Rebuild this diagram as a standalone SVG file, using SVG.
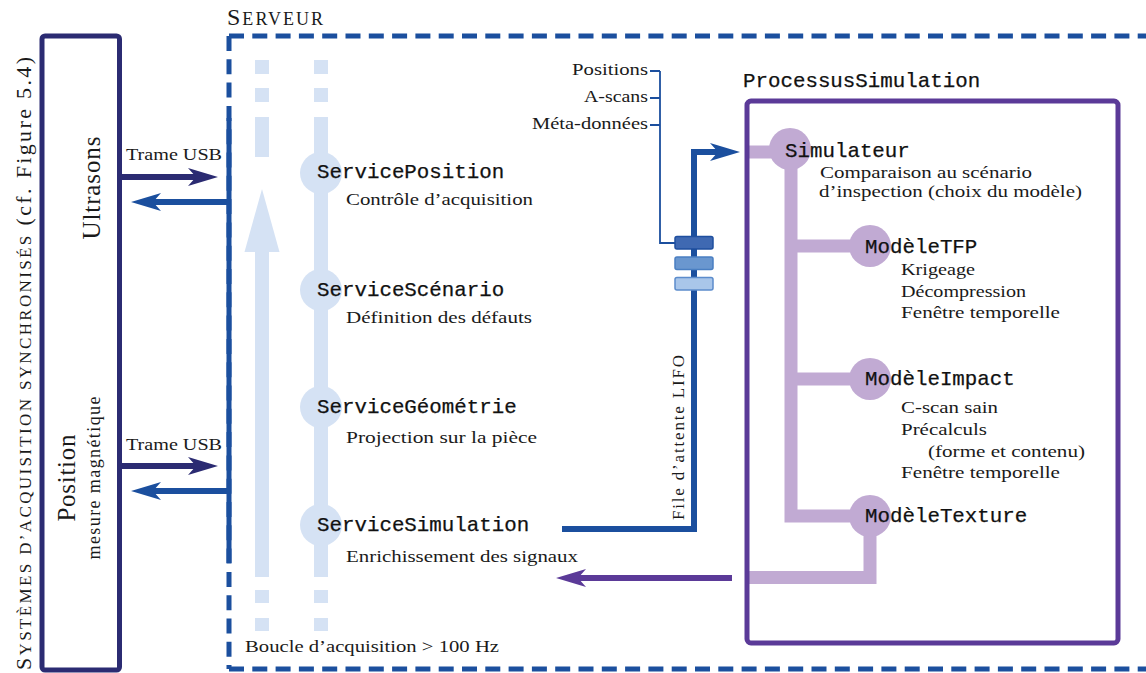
<svg xmlns="http://www.w3.org/2000/svg" width="1146" height="673" viewBox="0 0 1146 673">
<style>
.serif{font-family:"Liberation Serif","DejaVu Serif",serif;font-size:16.5px;fill:#1a1a1a}
.mono{font-family:"Liberation Mono","DejaVu Sans Mono",monospace;font-size:20.8px;fill:#111;stroke:#111;stroke-width:0.25}
.navy{stroke:#2b2b72;fill:none}
.blue{stroke:#1b4f9e;fill:none}
.lb{stroke:#d5e2f4;fill:none;stroke-width:14}
.lp{stroke:#c1aad3;fill:none;stroke-width:13}
.arr{stroke-width:6}
</style>
<defs>
<marker id="hNavy" viewBox="-32 -12 34 24" refX="-20" refY="0" markerWidth="34" markerHeight="24" markerUnits="userSpaceOnUse" orient="auto"><path d="M0,0 L-30,-9 L-22,0 L-30,9 Z" fill="#2b2b72"/></marker>
<marker id="hBlue" viewBox="-32 -12 34 24" refX="-20" refY="0" markerWidth="34" markerHeight="24" markerUnits="userSpaceOnUse" orient="auto"><path d="M0,0 L-30,-9 L-22,0 L-30,9 Z" fill="#1b4f9e"/></marker>
<marker id="hPurple" viewBox="-32 -12 34 24" refX="-20" refY="0" markerWidth="34" markerHeight="24" markerUnits="userSpaceOnUse" orient="auto"><path d="M0,0 L-30,-9 L-22,0 L-30,9 Z" fill="#5b3a98"/></marker>
</defs>
<rect width="1146" height="673" fill="#fff"/>

<g id="acquisition">
<text class="serif" transform="translate(31,670) rotate(-90)" style="font-size:22px" textLength="613" lengthAdjust="spacing">S<tspan style="font-size:17px">YSTÈMES D’ACQUISITION SYNCHRONISÉS</tspan> (cf. Figure 5.4)</text>
<rect class="navy" x="42" y="36" width="77.5" height="634" rx="3" stroke-width="5"/>
<text class="serif" transform="translate(100,188) rotate(-90)" style="font-size:25px" text-anchor="middle" textLength="103" lengthAdjust="spacing">Ultrasons</text>
<text class="serif" transform="translate(75,478) rotate(-90)" style="font-size:25px" text-anchor="middle" textLength="87" lengthAdjust="spacing">Position</text>
<text class="serif" transform="translate(100,478) rotate(-90)" style="font-size:18px" text-anchor="middle" textLength="163" lengthAdjust="spacing">mesure magnétique</text>
</g>

<g id="serveur">
<text class="serif" x="227" y="25" style="font-size:24px" textLength="96" lengthAdjust="spacing">S<tspan style="font-size:18px">ERVEUR</tspan></text>
<path class="blue" d="M229,36 H1146 M229,36 V669 M229,669 H1146" stroke-width="5" stroke-dasharray="15 8.3"/>
<text class="serif" x="245" y="652" textLength="254" lengthAdjust="spacingAndGlyphs">Boucle d’acquisition &gt; 100 Hz</text>
<path class="lb" d="M262,60 V74 M262,88 V102 M262,117 V157 M262,248 V577 M262,590 V603 M262,618 V631"/>
<polygon points="262,189 244.5,252 279.5,252" fill="#d5e2f4"/>
<path class="lb" d="M321,60 V74 M321,88 V102 M321,117 V577 M321,590 V603 M321,618 V631"/>
</g>

<g id="ServicePosition">
<circle cx="321" cy="173" r="21" fill="#d5e2f4"/>
<text class="mono" x="317" y="178">ServicePosition</text>
<text class="serif" x="346" y="205" textLength="187" lengthAdjust="spacingAndGlyphs">Contrôle d’acquisition</text>
</g>
<g id="ServiceScenario">
<circle cx="321" cy="290" r="21" fill="#d5e2f4"/>
<text class="mono" x="317" y="296">ServiceScénario</text>
<text class="serif" x="346" y="323" textLength="186" lengthAdjust="spacingAndGlyphs">Définition des défauts</text>
</g>
<g id="ServiceGeometrie">
<circle cx="321" cy="407" r="21" fill="#d5e2f4"/>
<text class="mono" x="317" y="413">ServiceGéométrie</text>
<text class="serif" x="346" y="443" textLength="191" lengthAdjust="spacingAndGlyphs">Projection sur la pièce</text>
</g>
<g id="ServiceSimulation">
<circle cx="321" cy="525" r="21" fill="#d5e2f4"/>
<text class="mono" x="317" y="531">ServiceSimulation</text>
<text class="serif" x="346" y="562" textLength="232" lengthAdjust="spacingAndGlyphs">Enrichissement des signaux</text>
</g>

<g id="ProcessusSimulation">
<text class="mono" x="743" y="87">ProcessusSimulation</text>
<path class="lp" d="M747,152 H790"/>
<path class="lp" d="M791,160 V516 H860 M791,246 H860 M791,379 H860"/>
<path class="lp" d="M870,525 V577.5 H748"/>
<rect x="747" y="101" width="371" height="542" rx="4" fill="none" stroke="#5b3a98" stroke-width="5"/>
</g>
<g id="Simulateur">
<circle cx="790" cy="149" r="21" fill="#c1aad3"/>
<text class="mono" x="785" y="157">Simulateur</text>
<text class="serif" x="820" y="178" textLength="212" lengthAdjust="spacingAndGlyphs">Comparaison au scénario</text>
<text class="serif" x="819" y="197" textLength="263" lengthAdjust="spacingAndGlyphs">d’inspection (choix du modèle)</text>
</g>
<g id="ModeleTFP">
<circle cx="870" cy="246" r="21" fill="#c1aad3"/>
<text class="mono" x="865" y="253">ModèleTFP</text>
<text class="serif" x="901" y="275" textLength="74" lengthAdjust="spacingAndGlyphs">Krigeage</text>
<text class="serif" x="901" y="297" textLength="125" lengthAdjust="spacingAndGlyphs">Décompression</text>
<text class="serif" x="901" y="318" textLength="159" lengthAdjust="spacingAndGlyphs">Fenêtre temporelle</text>
</g>
<g id="ModeleImpact">
<circle cx="870" cy="379" r="21" fill="#c1aad3"/>
<text class="mono" x="865" y="385">ModèleImpact</text>
<text class="serif" x="901" y="413" textLength="97" lengthAdjust="spacingAndGlyphs">C-scan sain</text>
<text class="serif" x="901" y="435" textLength="86" lengthAdjust="spacingAndGlyphs">Précalculs</text>
<text class="serif" x="928" y="457" textLength="157" lengthAdjust="spacingAndGlyphs">(forme et contenu)</text>
<text class="serif" x="901" y="478" textLength="159" lengthAdjust="spacingAndGlyphs">Fenêtre temporelle</text>
</g>
<g id="ModeleTexture">
<circle cx="870" cy="516" r="21" fill="#c1aad3"/>
<text class="mono" x="865" y="522">ModèleTexture</text>
</g>

<g id="queue">
<text class="serif" x="648" y="75" text-anchor="end" textLength="76" lengthAdjust="spacingAndGlyphs">Positions</text>
<text class="serif" x="648" y="102" text-anchor="end" textLength="64" lengthAdjust="spacingAndGlyphs">A-scans</text>
<text class="serif" x="648" y="129" text-anchor="end" textLength="116" lengthAdjust="spacingAndGlyphs">Méta-données</text>
<text class="serif" transform="translate(684,520) rotate(-90)" style="font-size:17px" textLength="165" lengthAdjust="spacing">File d’attente LIFO</text>
</g>

<g id="connectors">
<path class="blue" d="M229,118 V563" stroke-width="5"/>
<path class="navy arr" d="M120,177 H198" marker-end="url(#hNavy)"/>
<path class="blue arr" d="M229,202 H151" marker-end="url(#hBlue)"/>
<path class="navy arr" d="M120,466 H198" marker-end="url(#hNavy)"/>
<path class="blue arr" d="M229,491 H151" marker-end="url(#hBlue)"/>
<path class="blue arr" d="M562,529 H694 V152 H720" marker-end="url(#hBlue)"/>
<path class="blue" d="M650,71 H660 M650,98 H660 M650,125 H660 M660,71 V243 H676" stroke-width="1.8"/>
<rect x="675" y="236.5" width="38" height="12.5" rx="2" fill="#3f69b2" stroke="#1f4f9f" stroke-width="1.5"/>
<rect x="675" y="257" width="38" height="12.5" rx="2" fill="#6a97cf" stroke="#4a7fc2" stroke-width="1.5"/>
<rect x="675" y="277.5" width="38" height="12.5" rx="2" fill="#a9c6ea" stroke="#5c8ccc" stroke-width="1.5"/>
<path d="M732,578 H576" stroke="#5b3a98" stroke-width="6" fill="none" marker-end="url(#hPurple)"/>
<text class="serif" x="126" y="160" textLength="96" lengthAdjust="spacingAndGlyphs">Trame USB</text>
<text class="serif" x="126" y="450" textLength="96" lengthAdjust="spacingAndGlyphs">Trame USB</text>
</g>
</svg>
